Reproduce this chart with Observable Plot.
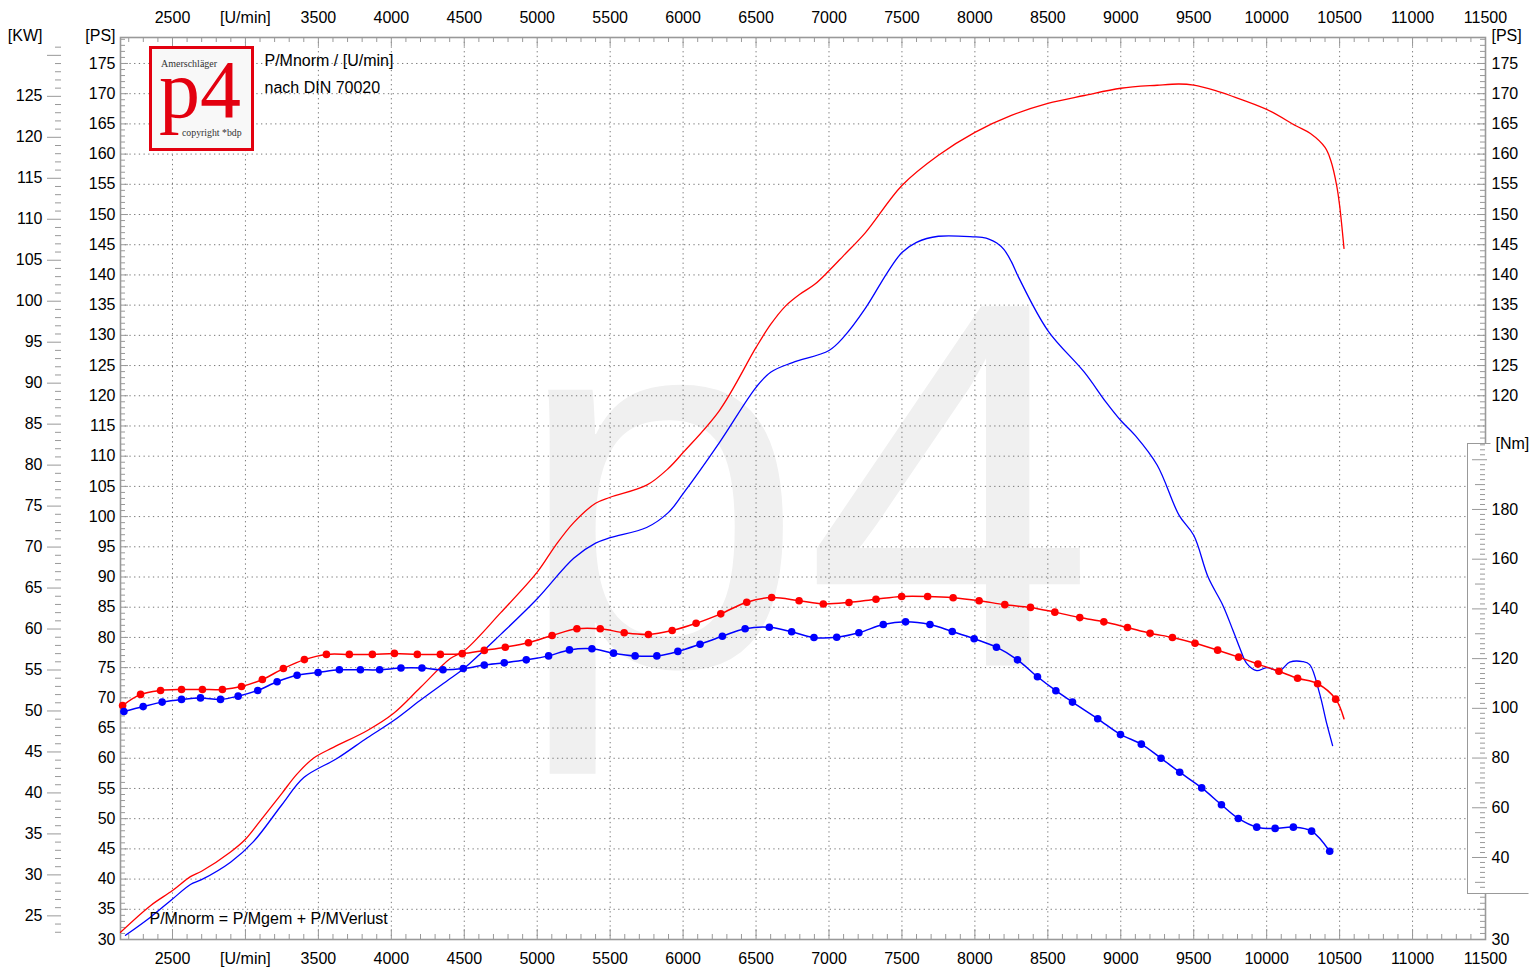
<!DOCTYPE html>
<html>
<head>
<meta charset="utf-8">
<script src="https://cdn.jsdelivr.net/npm/d3@7"></script>
<script src="https://cdn.jsdelivr.net/npm/@observablehq/plot@0.6"></script>
<style>
  body { margin: 0; background: #fff; }
  #wrap { position: relative; width: 1535px; height: 978px; overflow: hidden; }
  #logo { position: absolute; left: 149px; top: 46px; }
</style>
</head>
<body>
<div id="wrap"></div>
<script>
// ---------- DATA ----------
const redPowerRpm = [2144, 2349, 2500, 2623, 2699, 2898, 3000, 3100, 3250, 3350, 3466, 3603, 3836, 4014, 4199, 4404, 4500, 4750, 5000, 5125, 5250, 5400, 5500, 5750, 5900, 6000, 6250, 6500, 6600, 6700, 6800, 6900, 7000, 7100, 7250, 7500, 7750, 8000, 8250, 8500, 8750, 9000, 9250, 9400, 9500, 9650, 9750, 10000, 10200, 10300, 10400, 10440, 10480, 10500, 10530];
const redPowerPs  = [31.2, 35.6, 38.1, 40.4, 41.3, 44.5, 46.6, 49.6, 54.2, 57.3, 60.0, 61.8, 64.6, 67.4, 71.7, 76.5, 77.8, 84.1, 90.8, 95.2, 99.0, 102.2, 103.2, 105.2, 108.0, 110.6, 117.6, 128.0, 131.8, 134.8, 136.8, 138.4, 140.7, 143.2, 147.0, 154.8, 159.8, 163.6, 166.4, 168.4, 169.7, 170.9, 171.4, 171.6, 171.4, 170.5, 169.7, 167.4, 164.7, 163.4, 161.1, 158.9, 154.8, 151.5, 144.4];

const bluePowerRpm = [2178, 2349, 2500, 2623, 2699, 2898, 3055, 3250, 3400, 3630, 3836, 4014, 4199, 4404, 4500, 4750, 5000, 5250, 5400, 5500, 5750, 5900, 6000, 6250, 6500, 6600, 6750, 7000, 7100, 7250, 7400, 7500, 7600, 7750, 8000, 8050, 8100, 8150, 8200, 8250, 8300, 8500, 8750, 8900, 9000, 9100, 9250, 9400, 9500, 9600, 9700, 9770, 9815, 9863, 9932, 10000, 10089, 10158, 10247, 10295, 10363, 10411, 10452];
const bluePowerPs  = [30.7, 33.7, 36.7, 39.1, 39.9, 42.8, 46.2, 52.3, 56.8, 60.0, 63.4, 66.2, 69.6, 73.2, 74.9, 80.5, 86.4, 93.1, 95.6, 96.5, 98.2, 100.7, 103.8, 112.3, 121.4, 123.9, 125.5, 127.5, 129.7, 134.5, 140.4, 143.7, 145.4, 146.4, 146.3, 146.2, 145.9, 145.3, 144.2, 142.2, 139.6, 130.8, 123.9, 118.9, 115.9, 113.4, 108.5, 100.2, 96.9, 89.9, 85.3, 81.1, 78.3, 75.7, 74.5, 75.0, 74.5, 75.9, 76.0, 75.5, 70.7, 65.8, 62.1];

const redTorqueRpm = [2158, 2281, 2418, 2562, 2705, 2842, 2973, 3116, 3260, 3404, 3555, 3712, 3870, 4021, 4178, 4336, 4486, 4637, 4781, 4940, 5102, 5272, 5432, 5596, 5762, 5925, 6089, 6258, 6436, 6607, 6795, 6961, 7137, 7322, 7498, 7676, 7851, 8029, 8205, 8381, 8548, 8719, 8884, 9046, 9201, 9354, 9509, 9664, 9808, 9940, 10084, 10212, 10349, 10473];
const redTorqueNm  = [101.1, 105.6, 107.2, 107.6, 107.6, 107.6, 108.8, 111.6, 116.0, 119.6, 121.7, 121.7, 121.7, 122.1, 121.7, 121.7, 122.0, 123.3, 124.6, 126.4, 129.3, 132.0, 132.0, 130.4, 129.7, 131.3, 134.2, 138.0, 142.7, 144.6, 143.3, 142.0, 142.6, 143.9, 145.0, 145.0, 144.5, 143.3, 141.7, 140.6, 138.7, 136.5, 134.8, 132.5, 130.2, 128.5, 126.2, 123.4, 120.6, 117.8, 114.9, 112.1, 109.9, 103.7];
const redTorqueEnd = { rpm: 10530, nm: 95.8 };

const blueTorqueRpm = [2167, 2299, 2429, 2562, 2692, 2829, 2950, 3084, 3217, 3354, 3498, 3644, 3788, 3920, 4066, 4210, 4354, 4493, 4637, 4774, 4925, 5078, 5221, 5375, 5523, 5671, 5820, 5964, 6116, 6269, 6425, 6591, 6744, 6897, 7053, 7205, 7372, 7525, 7692, 7845, 7995, 8148, 8292, 8429, 8555, 8669, 8842, 8998, 9141, 9276, 9404, 9555, 9690, 9806, 9932, 10058, 10183, 10308, 10432];
const blueTorqueNm  = [98.7, 100.7, 102.5, 103.6, 104.2, 103.6, 104.9, 107.2, 110.7, 113.3, 114.4, 115.5, 115.5, 115.5, 116.2, 116.2, 115.5, 116.0, 117.4, 118.3, 119.5, 121.1, 123.5, 124.0, 122.2, 121.1, 121.1, 122.9, 125.8, 129.0, 132.0, 132.6, 130.8, 128.5, 128.6, 130.4, 133.7, 134.8, 133.7, 130.9, 128.0, 124.6, 119.5, 112.7, 107.1, 102.5, 95.8, 89.5, 85.6, 79.9, 74.3, 68.0, 61.2, 55.7, 52.2, 51.7, 52.2, 50.6, 42.5];

const xTickValues = [2500, 3000, 3500, 4000, 4500, 5000, 5500, 6000, 6500, 7000, 7500, 8000, 8500, 9000, 9500, 10000, 10500, 11000, 11500];
const xTickLabels = ["2500", "[U/min]", "3500", "4000", "4500", "5000", "5500", "6000", "6500", "7000", "7500", "8000", "8500", "9000", "9500", "10000", "10500", "11000", "11500"];
const psLeftLabels  = [30, 35, 40, 45, 50, 55, 60, 65, 70, 75, 80, 85, 90, 95, 100, 105, 110, 115, 120, 125, 130, 135, 140, 145, 150, 155, 160, 165, 170, 175];
const psRightLabels = [30, 120, 125, 130, 135, 140, 145, 150, 155, 160, 165, 170, 175];
const kwLabels = [25, 30, 35, 40, 45, 50, 55, 60, 65, 70, 75, 80, 85, 90, 95, 100, 105, 110, 115, 120, 125];
const nmLabels = [40, 60, 80, 100, 120, 140, 160, 180];

// ---------- LAYOUT ----------
const W = 1535, H = 978, mL = 120, mR = 50, mT = 37, mB = 39;
const iW = W - mL - mR;   // inner width
const iH = H - mT - mB;   // inner height
const KW_TO_PS = 1.3565;  // kW axis alignment against the PS axis, as drawn
// Nm axis alignment against the PS axis: 40 Nm ↔ 43.574 PS, 180 Nm ↔ 101.18 PS
const nmToPs = nm => 43.574 + (nm - 40) * (101.18 - 43.574) / 140;
const grey = "#999";
const font = "Liberation Sans, Arial, Helvetica, sans-serif";

const rng = (a, b, s) => d3.range(a, b + s / 2, s);
const xMinor = rng(2200, 11400, 100).filter(v => v % 500 !== 0);
const xMajor = rng(2500, 11000, 500);
const psMinor = rng(31, 179, 1).filter(v => v % 5 !== 0);
const psMajor = rng(35, 175, 5);
const kwAll = rng(23, 131, 1);
const nmAll = rng(28, 206, 2);

const zip = (xs, ys) => xs.map((x, i) => ({ rpm: x, v: ys[i] }));
const redPower = zip(redPowerRpm, redPowerPs);
const bluePower = zip(bluePowerRpm, bluePowerPs);
const redTorque = zip(redTorqueRpm, redTorqueNm);
const blueTorque = zip(blueTorqueRpm, blueTorqueNm);
const redTorqueLine = [...redTorque, { rpm: redTorqueEnd.rpm, v: redTorqueEnd.nm }];
const xLabelData = xTickValues.map((v, i) => ({ rpm: v, label: xTickLabels[i] }));

const txt = (data, opts) => Plot.text(data, { fill: "#000", fontSize: 16, fontFamily: font, lineAnchor: "middle", ...opts });

const chart = Plot.plot({
  width: W, height: H,
  marginLeft: mL, marginRight: mR, marginTop: mT, marginBottom: mB,
  x: { type: "linear", domain: [2143.6, 11500], axis: null },
  y: { type: "linear", domain: [30, 179.3], axis: null },
  style: { fontFamily: font, fontSize: "16px", background: "#fff", overflow: "visible" },
  marks: [
    // watermark
    Plot.text(["p4"], { text: d => d, frameAnchor: "top-left", dx: 394, dy: 628, textAnchor: "start", lineAnchor: "bottom", fontSize: 522, fill: "#f0f0f0", fontFamily: font }),
    // dotted grid
    Plot.ruleX(xMajor, { x: d => d, stroke: "#777", strokeWidth: 1, strokeDasharray: "1.3,3.4" }),
    Plot.ruleY(psMajor, { y: d => d, stroke: "#777", strokeWidth: 1, strokeDasharray: "1.3,3.4" }),
    // frame
    Plot.frame({ stroke: grey, strokeWidth: 1.6 }),
    // x ticks top/bottom
    Plot.ruleX(xMinor, { x: d => d, stroke: grey, insetBottom: iH - 5 }),
    Plot.ruleX(xMajor, { x: d => d, stroke: grey, insetBottom: iH - 9 }),
    Plot.ruleX(xMinor, { x: d => d, stroke: grey, insetTop: iH - 5 }),
    Plot.ruleX(xMajor, { x: d => d, stroke: grey, insetTop: iH - 10 }),
    // PS ticks left/right
    Plot.ruleY(psMinor, { y: d => d, stroke: grey, insetRight: iW - 5 }),
    Plot.ruleY(psMajor, { y: d => d, stroke: grey, insetRight: iW - 8 }),
    Plot.ruleY(psMinor, { y: d => d, stroke: grey, insetLeft: iW - 5 }),
    Plot.ruleY(psMajor, { y: d => d, stroke: grey, insetLeft: iW - 8 }),
    // kW ticks
    Plot.ruleY(kwAll.filter(k => k % 5 !== 0), { y: k => k * KW_TO_PS, stroke: grey, insetLeft: -65, insetRight: iW + 59 }),
    Plot.ruleY(kwAll.filter(k => k % 5 === 0), { y: k => k * KW_TO_PS, stroke: grey, insetLeft: -73, insetRight: iW + 59 }),
    // Nm box (white panel + borders)
    Plot.frame({ fill: "#fff", stroke: "none", insetLeft: 1347, insetRight: -43, insetTop: 406, insetBottom: 46 }),
    Plot.frame({ fill: grey, stroke: "none", insetLeft: 1346.5, insetRight: iW - 1347.5, insetTop: 405.5, insetBottom: 45.5 }),
    Plot.frame({ fill: grey, stroke: "none", insetLeft: 1347, insetRight: -43, insetTop: iH - 46.5, insetBottom: 45.5 }),
    Plot.frame({ fill: grey, stroke: "none", insetLeft: 1347, insetRight: -5, insetTop: 405.5, insetBottom: iH - 406.5 }),
    // Nm ticks
    Plot.ruleY(nmAll.filter(n => n % 10 !== 0), { y: n => nmToPs(n), stroke: grey, insetLeft: 1360, insetRight: 0 }),
    Plot.ruleY(nmAll.filter(n => n % 10 === 0 && n % 20 !== 0), { y: n => nmToPs(n), stroke: grey, insetLeft: 1355, insetRight: 0 }),
    Plot.ruleY(nmAll.filter(n => n % 20 === 0), { y: n => nmToPs(n), stroke: grey, insetLeft: 1352, insetRight: -2 }),
    // axis labels
    txt(xLabelData, { x: "rpm", text: "label", frameAnchor: "top", dy: -20 }),
    txt(xLabelData, { x: "rpm", text: "label", frameAnchor: "bottom", dy: 19 }),
    txt(psLeftLabels, { y: d => d, text: d => String(d), frameAnchor: "left", dx: -5, textAnchor: "end" }),
    txt(psRightLabels, { y: d => d, text: d => String(d), frameAnchor: "right", dx: 6, textAnchor: "start" }),
    txt(kwLabels, { y: d => d * KW_TO_PS, text: d => String(d), frameAnchor: "left", dx: -78, textAnchor: "end" }),
    txt(nmLabels, { y: d => nmToPs(d), text: d => String(d), frameAnchor: "right", dx: 6, textAnchor: "start" }),
    txt(["[PS]"], { text: d => d, frameAnchor: "top-left", dx: -5, dy: -2, textAnchor: "end" }),
    txt(["[PS]"], { text: d => d, frameAnchor: "top-right", dx: 6, dy: -2, textAnchor: "start" }),
    txt(["[KW]"], { text: d => d, frameAnchor: "top-left", dx: -78, dy: -2, textAnchor: "end" }),
    txt(["[Nm]"], { text: d => d, frameAnchor: "top-right", dx: 10, dy: 406, textAnchor: "start" }),
    // data: power curves
    Plot.line(redPower, { x: "rpm", y: "v", stroke: "#ff0000", strokeWidth: 1.3, curve: "catmull-rom" }),
    Plot.line(bluePower, { x: "rpm", y: "v", stroke: "#0000ff", strokeWidth: 1.3, curve: "catmull-rom" }),
    // data: torque curves
    Plot.line(redTorqueLine, { x: "rpm", y: d => nmToPs(d.v), stroke: "#ff0000", strokeWidth: 1.5, curve: "catmull-rom" }),
    Plot.dot(redTorque, { x: "rpm", y: d => nmToPs(d.v), r: 3.8, fill: "#ff0000", stroke: "none" }),
    Plot.line(blueTorque, { x: "rpm", y: d => nmToPs(d.v), stroke: "#0000ff", strokeWidth: 1.5, curve: "catmull-rom" }),
    Plot.dot(blueTorque, { x: "rpm", y: d => nmToPs(d.v), r: 3.8, fill: "#0000ff", stroke: "none" }),
    // annotations
    txt(["P/Mnorm / [U/min]"], { text: d => d, frameAnchor: "top-left", dx: 144, dy: 23, textAnchor: "start" }),
    txt(["nach DIN 70020"], { text: d => d, frameAnchor: "top-left", dx: 144, dy: 50, textAnchor: "start" }),
    txt(["P/Mnorm = P/Mgem + P/MVerlust"], { text: d => d, frameAnchor: "bottom-left", dx: 29, dy: -21, textAnchor: "start" })
  ]
});

const wrap = document.getElementById("wrap");
wrap.appendChild(chart);

// logo box
wrap.insertAdjacentHTML("beforeend", `
<svg id="logo" width="105" height="105" xmlns="http://www.w3.org/2000/svg">
  <rect x="1.5" y="1.5" width="102" height="102" fill="#f8f8f8" stroke="#e3000f" stroke-width="3"/>
  <text x="12" y="21" font-family="Liberation Serif, Times New Roman, serif" font-size="10" fill="#333">Amerschläger</text>
  <text x="10" y="71" font-family="Liberation Serif, Times New Roman, serif" font-size="82" fill="#e3000f">p4</text>
  <text x="33" y="90" font-family="Liberation Serif, Times New Roman, serif" font-size="9.8" fill="#333">copyright *bdp</text>
</svg>`);
</script>
</body>
</html>
